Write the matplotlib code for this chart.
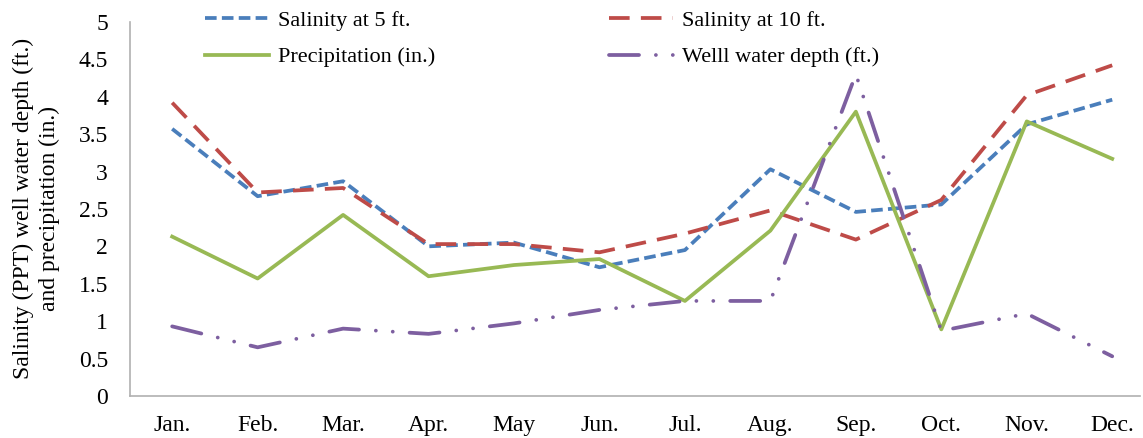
import matplotlib
matplotlib.use("Agg")
import matplotlib.pyplot as plt
from matplotlib.ticker import FuncFormatter

months = ["Jan.", "Feb.", "Mar.", "Apr.", "May", "Jun.", "Jul.", "Aug.", "Sep.", "Oct.", "Nov.", "Dec."]
salinity_5ft = [3.57, 2.67, 2.87, 2.00, 2.05, 1.72, 1.95, 3.03, 2.46, 2.56, 3.63, 3.96]
salinity_10ft = [3.92, 2.72, 2.78, 2.03, 2.03, 1.92, 2.17, 2.48, 2.09, 2.62, 4.02, 4.42]
precipitation = [2.13, 1.57, 2.42, 1.60, 1.75, 1.83, 1.27, 2.21, 3.80, 0.89, 3.67, 3.17]
well_depth = [0.93, 0.65, 0.90, 0.83, 0.97, 1.15, 1.27, 1.27, 4.30, 0.87, 1.10, 0.53]

plt.rcParams["font.family"] = ["Liberation Serif", "DejaVu Serif"]

fig = plt.figure(figsize=(11.43, 4.38), dpi=100)
ax = fig.add_axes([0.114, 0.096, 0.883, 0.854])

x = list(range(len(months)))
lw = 2.7
l5, = ax.plot(x, salinity_5ft, color="#4A7EBB", lw=lw, linestyle=(0, (3.1, 1.4)),
              label="Salinity at 5 ft.")
l10, = ax.plot(x, salinity_10ft, color="#BE4B48", lw=lw, linestyle=(0, (5.5, 3.0)),
               label="Salinity at 10 ft.")
lp, = ax.plot(x, precipitation, color="#98B954", lw=lw, label="Precipitation (in.)")
lw_, = ax.plot(x, well_depth, color="#7D5FA0", lw=lw, dash_capstyle="round",
               linestyle=(0, (8, 4.5, 0.01, 4.5, 0.01, 4.5)),
               label="Welll water depth (ft.)")

ax.set_xlim(-0.49, 11.32)
ax.set_ylim(0, 5)
ax.set_yticks([i * 0.5 for i in range(11)])
ax.yaxis.set_major_formatter(FuncFormatter(lambda v, p: f"{v:g}"))
ax.set_xticks(x)
ax.set_xticklabels(months)
ax.tick_params(axis="both", length=0, labelsize=17)
ax.tick_params(axis="x", pad=14)
ax.tick_params(axis="y", pad=16)

for s in ["top", "right"]:
    ax.spines[s].set_visible(False)
for s in ["left", "bottom"]:
    ax.spines[s].set_color("#B0B0B0")
    ax.spines[s].set_linewidth(1.2)

ax.set_ylabel("Salinity (PPT) well water depth (ft.)\nand precipitation (in.)", fontsize=17,
              linespacing=1.25)
ax.yaxis.set_label_coords(-0.07, 0.5)

ax.legend(handles=[l5, lp, l10, lw_], ncol=2, loc="upper left", bbox_to_anchor=(0.074, 1.03),
          frameon=False, fontsize=16, columnspacing=7.8, handlelength=2.9,
          handletextpad=0.4, labelspacing=0.7, borderpad=0, borderaxespad=0)

fig.savefig("out.png", dpi=100)
